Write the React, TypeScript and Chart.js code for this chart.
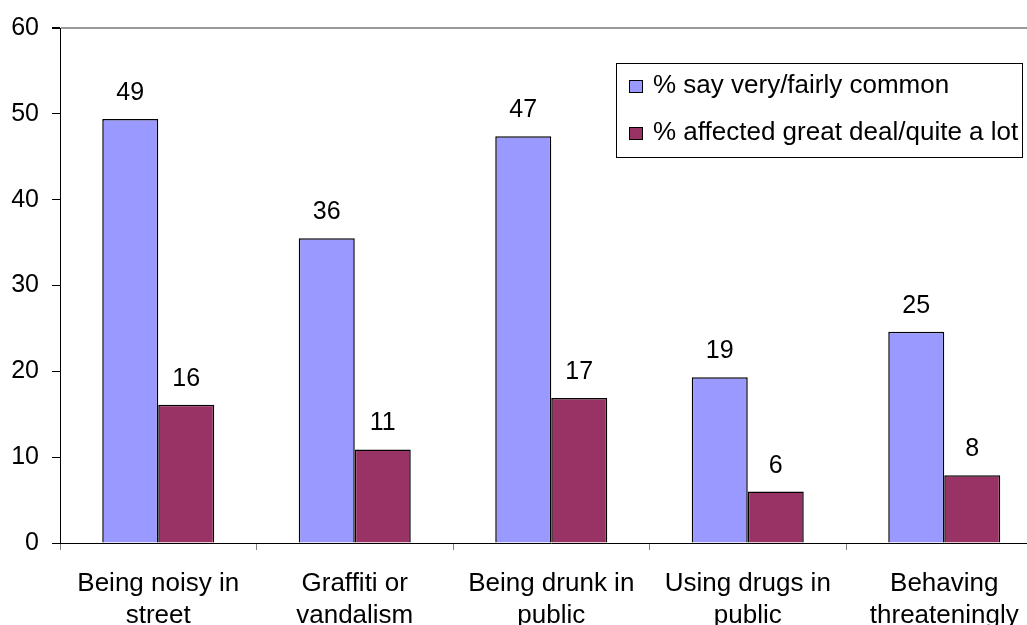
import React, { useEffect, useRef } from "react";
import { Chart, registerables } from "chart.js";

Chart.register(...registerables);

const categories: string[][] = [
  ["Being noisy in", "street"],
  ["Graffiti or", "vandalism"],
  ["Being drunk in", "public"],
  ["Using drugs in", "public"],
  ["Behaving", "threateningly"],
];
const commonValues = [49.4, 35.5, 47.4, 19.3, 24.6];
const affectedValues = [16.1, 10.9, 16.9, 6.0, 7.9];
const seriesLabels = ["% say very/fairly common", "% affected great deal/quite a lot"];
const seriesColors = ["#9999FF", "#993366"];
const yMin = 0;
const yMax = 60;
const yStep = 10;

const FONT = "'Liberation Sans', Arial, sans-serif";

const valueLabelPlugin = {
  id: "valueLabels",
  afterDatasetsDraw(chart: any) {
    const ctx = chart.ctx;
    ctx.save();
    ctx.font = `25px ${FONT}`;
    ctx.fillStyle = "#000";
    ctx.textAlign = "center";
    ctx.textBaseline = "alphabetic";
    chart.data.datasets.forEach((ds: any, di: number) => {
      const meta = chart.getDatasetMeta(di);
      meta.data.forEach((bar: any, i: number) => {
        ctx.fillText(String(Math.round(ds.data[i])), bar.x, bar.y - 19);
      });
    });
    ctx.restore();
  },
};

const boxLegendPlugin = {
  id: "boxLegend",
  afterDraw(chart: any) {
    const ctx = chart.ctx;
    ctx.save();
    const left = 616;
    const top = 63;
    const w = 406;
    const h = 94;
    ctx.fillStyle = "#fff";
    ctx.fillRect(left, top, w, h);
    ctx.strokeStyle = "#000";
    ctx.lineWidth = 1;
    ctx.strokeRect(left + 0.5, top + 0.5, w, h);
    ctx.font = `26px ${FONT}`;
    ctx.textAlign = "left";
    ctx.textBaseline = "alphabetic";
    const baselines = [93, 140];
    chart.data.datasets.forEach((ds: any, i: number) => {
      const by = baselines[i];
      ctx.fillStyle = ds.backgroundColor;
      ctx.fillRect(629, by - 13, 14, 13);
      ctx.strokeStyle = "#000";
      ctx.lineWidth = 1;
      ctx.strokeRect(629.5, by - 12.5, 13, 12);
      ctx.fillStyle = "#000";
      ctx.fillText(ds.label, 653, by);
    });
    ctx.restore();
  },
};

export default function App() {
  const canvasRef = useRef<HTMLCanvasElement | null>(null);

  useEffect(() => {
    if (!canvasRef.current) return;
    const chart = new Chart(canvasRef.current, {
      type: "bar",
      data: {
        labels: categories,
        datasets: [
          {
            label: seriesLabels[0],
            data: commonValues,
            backgroundColor: seriesColors[0],
            borderColor: "#000",
            borderWidth: 1.5,
            categoryPercentage: 0.57,
            barPercentage: 1,
          },
          {
            label: seriesLabels[1],
            data: affectedValues,
            backgroundColor: seriesColors[1],
            borderColor: "#000",
            borderWidth: 1.5,
            categoryPercentage: 0.57,
            barPercentage: 1,
          },
        ],
      },
      options: {
        responsive: false,
        animation: false,
        devicePixelRatio: 1,
        layout: { padding: { top: 27, right: 17.5, bottom: 0, left: 0 } },
        plugins: {
          legend: { display: false },
          tooltip: { enabled: false },
          title: { display: false },
        },
        scales: {
          x: {
            offset: true,
            grid: {
              display: true,
              drawOnChartArea: false,
              tickLength: 7,
              tickColor: "#808080",
              offset: true,
            },
            border: { display: true, color: "#000", width: 1 },
            ticks: {
              color: "#000",
              font: { family: FONT, size: 26, lineHeight: 1.23 },
              padding: 18,
              maxRotation: 0,
              minRotation: 0,
              autoSkip: false,
            },
            afterFit: (scale: any) => {
              scale.height = 117;
            },
          },
          y: {
            min: yMin,
            max: yMax,
            grid: {
              display: true,
              drawOnChartArea: true,
              tickLength: 8,
              tickColor: "#000",
              color: (ctx: any) => (ctx.tick && ctx.tick.value === yMax ? "#999999" : "rgba(0,0,0,0)"),
              lineWidth: (ctx: any) => (ctx.tick && ctx.tick.value === yMax ? 2 : 1),
            },
            border: { display: true, color: "#000", width: 1 },
            ticks: {
              stepSize: yStep,
              color: "#000",
              font: { family: FONT, size: 25 },
              padding: 13,
            },
            afterFit: (scale: any) => {
              scale.width = 60;
            },
          },
        },
      },
      plugins: [valueLabelPlugin, boxLegendPlugin],
    } as any);
    return () => chart.destroy();
  }, []);

  return (
    <div
      style={{
        position: "fixed",
        left: 0,
        top: 0,
        width: 1027,
        height: 625,
        overflow: "hidden",
        background: "#fff",
      }}
    >
      <canvas ref={canvasRef} width={1060} height={660} style={{ display: "block" }} />
    </div>
  );
}
